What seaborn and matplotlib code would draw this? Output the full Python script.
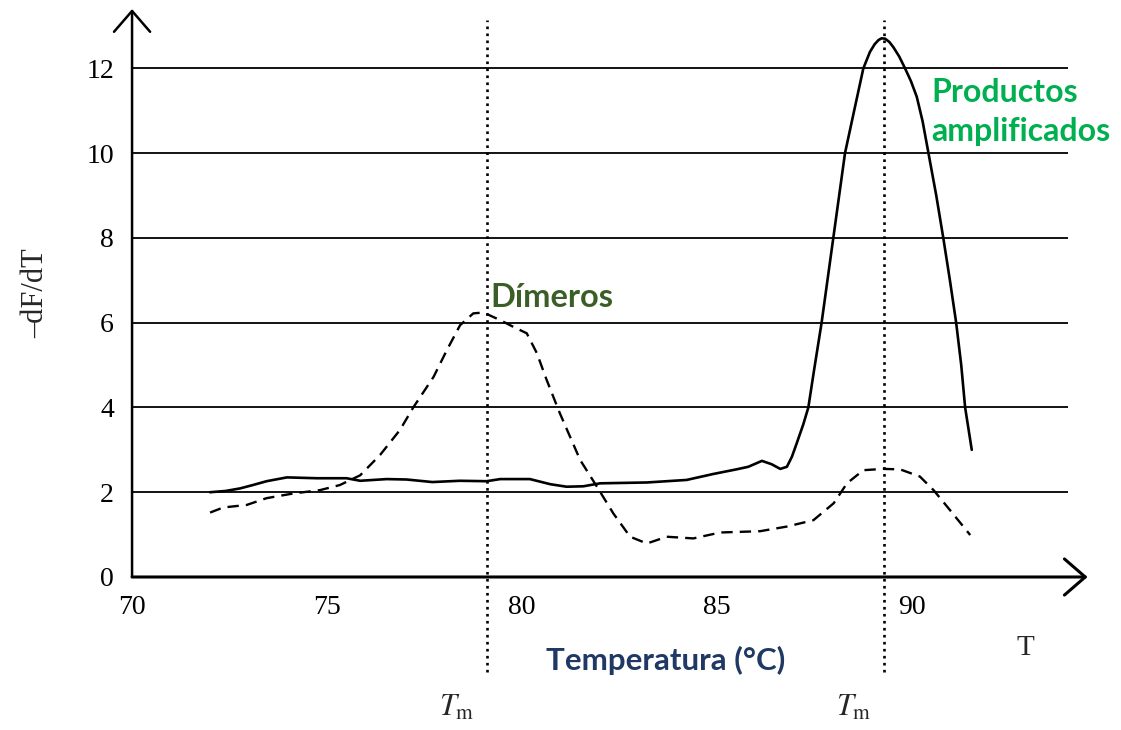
import matplotlib
matplotlib.use("Agg")
import matplotlib.pyplot as plt
import pandas as pd
import seaborn as sns

# Curva continua: productos amplificados
temp_productos = [72.0, 72.4, 72.77, 73.1, 73.45, 73.97, 74.74, 75.5, 75.85, 76.53,
                  77.04, 77.7, 78.4, 79.09, 79.44, 80.2, 80.72, 81.14, 81.57, 82.0,
                  83.2, 84.22, 84.9, 85.5, 85.8, 86.15, 86.4, 86.62, 86.79, 86.92,
                  87.04, 87.21, 87.34, 87.49, 87.68, 87.83, 87.98, 88.13, 88.28, 88.5,
                  88.75, 88.92, 89.04, 89.14, 89.22, 89.31, 89.42, 89.52, 89.67, 89.82,
                  89.97, 90.12, 90.27, 90.42, 90.62, 90.8, 90.97, 91.13, 91.26, 91.36,
                  91.53]
dfdt_productos = [2.0, 2.03, 2.09, 2.17, 2.26, 2.35, 2.33, 2.33, 2.27, 2.31,
                  2.30, 2.24, 2.27, 2.26, 2.31, 2.31, 2.19, 2.13, 2.14, 2.21,
                  2.23, 2.29, 2.43, 2.54, 2.6, 2.74, 2.66, 2.55, 2.6, 2.84,
                  3.15, 3.6, 4.0, 4.9, 6.0, 7.0, 8.0, 9.0, 10.0, 10.94,
                  12.0, 12.39, 12.57, 12.67, 12.71, 12.7, 12.62, 12.5, 12.28, 12.0,
                  11.7, 11.33, 10.75, 10.0, 9.0, 8.0, 7.0, 6.0, 5.0, 4.0,
                  3.0]

# Curva discontinua: dímeros
temp_dimeros = [72.0, 72.34, 72.94, 73.45, 74.13, 74.82, 75.33, 75.85, 76.36, 76.87,
                77.21, 77.73, 78.07, 78.41, 78.75, 79.01, 79.44, 79.78, 80.12, 80.38,
                80.63, 80.97, 81.49, 81.92, 82.34, 82.77, 83.2, 83.71, 84.39, 85.08,
                86.1, 86.79, 87.47, 87.99, 88.33, 88.75, 89.26, 89.69, 90.2, 90.55,
                90.97, 91.49]
dfdt_dimeros = [1.52, 1.64, 1.70, 1.86, 1.97, 2.05, 2.17, 2.40, 2.88, 3.47,
                4.0, 4.72, 5.35, 5.94, 6.22, 6.24, 6.06, 5.90, 5.75, 5.28,
                4.65, 3.86, 2.76, 2.13, 1.50, 0.95, 0.79, 0.95, 0.91, 1.05,
                1.08, 1.19, 1.34, 1.74, 2.21, 2.52, 2.55, 2.54, 2.37, 2.05,
                1.58, 0.99]

tm_valores = [79.1, 89.28]
x_ticks = [70, 75, 80, 85, 90]
y_ticks = [0, 2, 4, 6, 8, 10, 12]

sns.set_style("white")
plt.rcParams['font.family'] = ['Liberation Serif', 'DejaVu Serif']
plt.rcParams['mathtext.fontset'] = 'stix'

fig = plt.figure(figsize=(11.21, 7.3), dpi=100)
ax = fig.add_axes([0.1178, 0.2096, 0.8524, 0.778])
ax.set_xlim(70, 94.5)
ax.set_ylim(0, 13.4)

# lineas horizontales de la cuadricula
ax.hlines(y_ticks[1:], 70, 94.0, color='black', lw=1.3, zorder=1)

df_prod = pd.DataFrame({'T': temp_productos, 'dF': dfdt_productos})
df_dim = pd.DataFrame({'T': temp_dimeros, 'dF': dfdt_dimeros})
sns.lineplot(data=df_prod, x='T', y='dF', color='black', lw=1.9, sort=False, ax=ax)
ax.lines[-1].set_solid_joinstyle('round')
sns.lineplot(data=df_dim, x='T', y='dF', color='black', lw=1.7, sort=False, ax=ax)
ax.lines[-1].set_dashes((4.8, 3.0))

# lineas verticales Tm
for tm in tm_valores:
    ax.plot([tm, tm], [-2.25, 13.15], ls=':', lw=1.9, color='black', clip_on=False)
    ax.text(tm - 0.78, -3.1, r'$T_{\mathrm{m}}$', fontsize=22, ha='center', va='center')

# ejes con flechas
for s in ax.spines.values():
    s.set_visible(False)
ax.annotate('', xy=(94.5, 0), xytext=(70, 0),
            arrowprops=dict(arrowstyle='->,head_length=0.75,head_width=0.65',
                            lw=2.2, color='black', mutation_scale=20,
                            shrinkA=0, shrinkB=0))
ax.annotate('', xy=(70, 13.4), xytext=(70, 0),
            arrowprops=dict(arrowstyle='->,head_length=0.75,head_width=0.65',
                            lw=1.8, color='black', mutation_scale=20,
                            shrinkA=0, shrinkB=0))

ax.set_xticks(x_ticks)
ax.set_yticks(y_ticks)
ax.tick_params(axis='both', labelsize=20, colors='black', direction='out',
               length=5, width=1)
ax.tick_params(axis='x', pad=8)
ax.tick_params(axis='y', pad=8)
ax.set_xlabel('')
ax.set_ylabel('–dF/dT', fontsize=22, labelpad=26)

ax.text(92.9, -1.67, 'T', fontsize=21, ha='center', va='center')
ax.text(83.67, -1.96, 'Temperatura (°C)', color='#1F3864', fontsize=22.5,
        fontweight='bold', family='Lato', ha='center', va='center')
ax.text(79.2, 6.6, 'Dímeros', color='#3B5E27', fontsize=23.5,
        fontweight='bold', family='Lato', ha='left', va='center')
ax.text(90.5, 10.97, 'Productos\namplificados', color='#00B050', fontsize=23,
        fontweight='bold', family='Lato', ha='left', va='center', linespacing=1.45)

fig.savefig('out.png', dpi=100)
